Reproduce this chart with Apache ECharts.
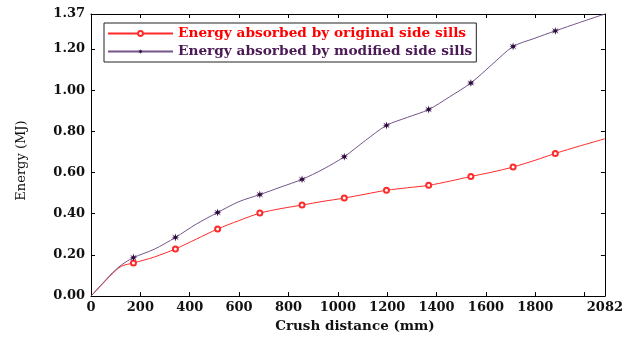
<!DOCTYPE html>
<html><head><meta charset="utf-8">
<script src="https://cdn.jsdelivr.net/npm/echarts@6/dist/echarts.min.js"></script>
<style>html,body{margin:0;padding:0;background:#fff}#c{width:626px;height:338px}</style>
</head><body><div id="c"></div>
<script>
// x positions (mm) and energies (MJ); marker flags mark the plotted symbols
var crushDistance = [0, 86, 123, 172, 257, 342, 427, 513, 598, 684, 770, 855, 940, 1026, 1111, 1197, 1282, 1368, 1453, 1539, 1624, 1710, 1795, 1881, 1980, 2082];
var energyOriginal = [0, 0.108, 0.145, 0.161, 0.190, 0.229, 0.277, 0.326, 0.366, 0.403, 0.425, 0.442, 0.460, 0.476, 0.495, 0.514, 0.526, 0.538, 0.558, 0.581, 0.602, 0.627, 0.658, 0.693, 0.729, 0.764];
var energyModified = [0, 0.112, 0.151, 0.187, 0.228, 0.285, 0.350, 0.406, 0.458, 0.493, 0.530, 0.567, 0.616, 0.677, 0.755, 0.829, 0.868, 0.906, 0.968, 1.035, 1.124, 1.212, 1.251, 1.288, 1.329, 1.370];
var isMarker = [0, 0, 0, 1, 0, 1, 0, 1, 0, 1, 0, 1, 0, 1, 0, 1, 0, 1, 0, 1, 0, 1, 0, 1, 0, 0];
var seriesNames = ['Energy absorbed by original side sills', 'Energy absorbed by modified side sills'];
var xTickMax = 2082, yTickMax = 1.37;

function build(vals) {
  return crushDistance.map(function (x, i) {
    var d = { value: [x, vals[i]] };
    if (!isMarker[i]) { d.symbol = 'none'; d.symbolSize = 0; }
    return d;
  });
}
var star = 'path://M0,-10L2,-3L8,-7L4,-1L10,0L4,1L8,7L2,3L0,10L-2,3L-8,7L-4,1L-10,0L-4,-1L-8,-7L-2,-3Z';
var font = 'DejaVu Serif';
var frameAxis = {
  axisLine: { show: true, onZero: false, lineStyle: { color: '#000', width: 1 } },
  axisTick: { inside: true, length: 4, lineStyle: { color: '#000' } },
  axisLabel: { show: false }, splitLine: { show: false }
};
var chart = echarts.init(document.getElementById('c'));
chart.setOption({
  backgroundColor: '#ffffff',
  animation: false,
  grid: { left: 91, right: 16, top: 14, bottom: 41 },
  legend: {
    orient: 'vertical', left: 104, top: 23,
    padding: [3, 4, 3, 3], itemGap: 3, itemWidth: 65, itemHeight: 6,
    borderColor: '#222', borderWidth: 1,
    textStyle: { fontFamily: font, fontWeight: 'bold', fontSize: 13.7, lineHeight: 15 },
    data: [
      { name: seriesNames[0], textStyle: { color: '#ff0000' } },
      { name: seriesNames[1], textStyle: { color: '#4a1a55' } }
    ]
  },
  xAxis: [{
    type: 'value', min: 0, max: xTickMax, interval: 200,
    name: 'Crush distance (mm)', nameLocation: 'middle', nameGap: 22,
    nameTextStyle: { fontFamily: font, fontSize: 13.5, fontWeight: 'bold', color: '#111', padding: [0, 0, 0, 14] },
    axisLine: { onZero: false, lineStyle: { color: '#000', width: 1 } },
    axisTick: { inside: true, length: 4, lineStyle: { color: '#000' } },
    axisLabel: { fontFamily: font, fontSize: 13, fontWeight: 'bold', color: '#111', margin: 5,
      showMaxLabel: true,
      formatter: function (v) { return v === 2000 ? '' : String(v); } },
    splitLine: { show: false }
  }, Object.assign({ type: 'value', position: 'top', min: 0, max: xTickMax, interval: 200 }, frameAxis)],
  yAxis: [{
    type: 'value', min: 0, max: yTickMax, interval: 0.2,
    name: 'Energy (MJ)', nameLocation: 'middle', nameGap: 63,
    nameTextStyle: { fontFamily: font, fontSize: 13, color: '#111', padding: [0, 11, 0, 0] },
    axisLine: { show: true, onZero: false, lineStyle: { color: '#000', width: 1 } },
    axisTick: { inside: true, length: 4, lineStyle: { color: '#000' } },
    axisLabel: { fontFamily: font, fontSize: 13, fontWeight: 'bold', color: '#111', margin: 6,
      showMaxLabel: true,
      formatter: function (v) { return v.toFixed(2); } },
    splitLine: { show: false }
  }, Object.assign({ type: 'value', position: 'right', min: 0, max: yTickMax, interval: 0.2 }, frameAxis)],
  series: [{
    name: seriesNames[0], type: 'line', smooth: 0.3,
    symbol: 'emptyCircle', symbolSize: 5,
    lineStyle: { color: '#ff2a2a', width: 1 },
    itemStyle: { color: '#ff2a2a', borderColor: '#ff2a2a', borderWidth: 1 },
    data: build(energyOriginal)
  }, {
    name: seriesNames[1], type: 'line', smooth: 0.3,
    symbol: star, symbolSize: 8,
    lineStyle: { color: '#74548a', width: 1 },
    itemStyle: { color: '#2e0a3e' },
    data: build(energyModified)
  }]
});
</script></body></html>
